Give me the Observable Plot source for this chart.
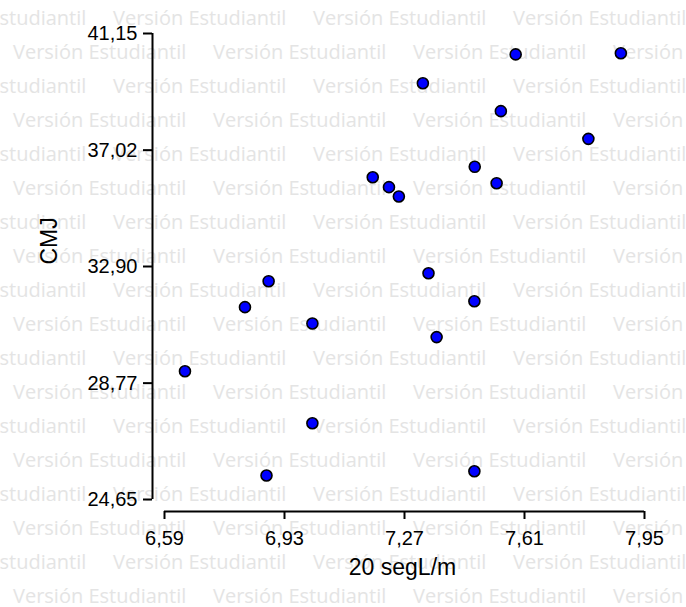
<!DOCTYPE html>
<html>
<head>
<meta charset="utf-8">
<script src="https://cdn.jsdelivr.net/npm/d3@7"></script>
<script src="https://cdn.jsdelivr.net/npm/@observablehq/plot@0.6"></script>
<style>
  html, body { margin: 0; padding: 0; background: white; }
  #chart { width: 686px; height: 607px; overflow: hidden; }
</style>
</head>
<body>
<div id="chart"></div>
<script>
// Data
const segL = [7.585, 7.883, 7.322, 7.543, 7.791, 7.469, 7.531, 7.180, 7.226, 7.254,
              7.338, 7.468, 7.361, 6.885, 6.818, 7.009, 6.648, 7.009, 6.879, 7.468];
const cmj  = [40.41, 40.45, 39.39, 38.40, 37.42, 36.43, 35.85, 36.06, 35.71, 35.38,
              32.66, 31.67, 30.40, 32.38, 31.46, 30.88, 29.19, 27.35, 25.50, 25.65];
const xTicks = [6.59, 6.93, 7.27, 7.61, 7.95];
const yTicks = [24.65, 28.77, 32.90, 37.02, 41.15];
const xLabel = "20 segL/m";
const yLabel = "CMJ";
const watermarkText = "Versión Estudiantil";

const points = segL.map((x, i) => ({x, y: cmj[i]}));
const fmt = d => d.toFixed(2).replace(".", ",");
const xMin = xTicks[0], xMax = xTicks[xTicks.length - 1];
const yMin = yTicks[0], yMax = yTicks[yTicks.length - 1];

const plot = Plot.plot({
  width: 686,
  height: 607,
  marginLeft: 152,
  marginRight: 42,
  marginTop: 33,
  marginBottom: 96,
  style: {fontFamily: "'Liberation Sans', Arial, sans-serif", fontSize: "20px", background: "transparent", color: "black"},
  x: {domain: [xMin, xMax], insetLeft: 12},
  y: {domain: [yMin, yMax], insetBottom: 12},
  marks: [
    Plot.ruleX([xMin], {y1: yMin, y2: yMax, dx: -12, stroke: "black", strokeWidth: 2}),
    Plot.ruleY([yMin], {x1: xMin, x2: xMax, dy: 12, stroke: "black", strokeWidth: 2}),
    Plot.axisY({ticks: yTicks, tickFormat: fmt, tickSize: 9, tickPadding: 6, strokeWidth: 2, label: null, fontSize: 20}),
    Plot.axisX({ticks: xTicks, tickFormat: fmt, tickSize: 8, tickPadding: 11, strokeWidth: 2, label: null, fontSize: 20}),
    Plot.text([xLabel], {text: d => d, frameAnchor: "bottom", dx: 4, dy: 63, fontSize: 23, fill: "black"}),
    Plot.text([yLabel], {text: d => d, frameAnchor: "left", rotate: -90, dx: -103, dy: -8, fontSize: 23, fill: "black"}),
    Plot.dot(points, {x: "x", y: "y", r: 5.5, fill: "#0000ff", stroke: "black", strokeWidth: 1.6})
  ]
});

// Student-version watermark drawn behind the chart
const svg = d3.select(plot);
const wm = svg.insert("g", ":first-child")
  .attr("font-family", "'Open Sans', 'Noto Sans', sans-serif")
  .attr("font-size", 20)
  .attr("text-anchor", "start")
  .attr("fill", "#e4e4e4");
for (let i = 0; i < 18; i++) {
  const baseline = 25 + 34 * i;
  const start = i % 2 === 0 ? -87 : 13;
  for (let k = 0; k < 5; k++) {
    wm.append("text").attr("x", start + 200 * k).attr("y", baseline).text(watermarkText);
  }
}

document.getElementById("chart").appendChild(plot);
</script>
</body>
</html>
